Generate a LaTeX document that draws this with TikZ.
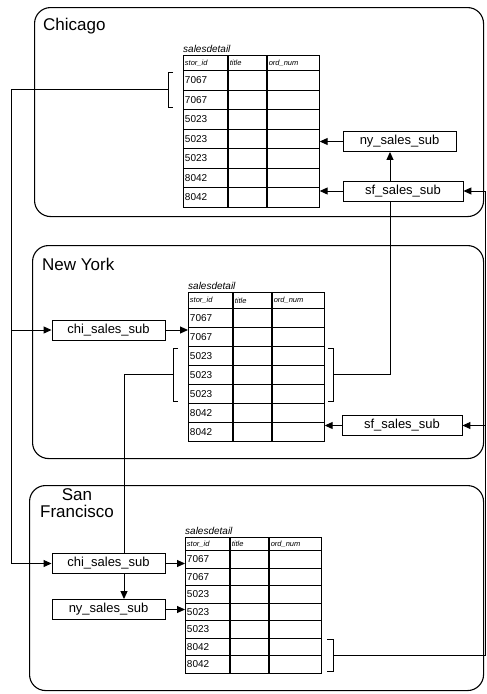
\documentclass[tikz,border=0pt]{standalone}
\usepackage{fontspec}
\setmainfont{Liberation Sans}
\usetikzlibrary{arrows.meta,positioning,backgrounds}

% one salesdetail table: name, left edge, header top, header height, row height
\newcommand{\salestable}[5]{%
  \node[tabtitle] (#1-title) at (#2,#3) {salesdetail};
  \node[hcell, text width=41pt, minimum height=#4pt] (#1-h1) at (#2,#3) {stor\_id};
  \node[hcell, text width=35pt, minimum height=#4pt] (#1-h2) at (#1-h1.north east) {title};
  \node[hcell, text width=49pt, minimum height=#4pt] (#1-h3) at (#1-h2.north east) {ord\_num};
  \foreach \rid [count=\row] in {7067,7067,5023,5023,5023,8042,8042} {
    \node[cell, text width=41pt, minimum height=#5pt] (#1-r\row) at ({#2},{#3+#4+(\row-1)*#5}) {\rid};
    \node[cell, text width=35pt, minimum height=#5pt] (#1-r\row-2) at (#1-r\row.north east) {};
    \node[cell, text width=49pt, minimum height=#5pt] (#1-r\row-3) at (#1-r\row-2.north east) {};
  }
}

\begin{document}
\begin{tikzpicture}[x=1pt, y=-1pt,
    site/.style={draw, line width=1.1pt, rounded corners=16pt, anchor=north west, inner sep=0pt},
    sitelabel/.style={font=\fontsize{17}{17}\selectfont, inner sep=0pt},
    sub/.style={draw, fill=white, line width=0.9pt, minimum height=20pt, inner sep=0pt, font=\fontsize{13}{13}\selectfont},
    tabtitle/.style={anchor=south west, inner sep=0pt, yshift=2pt, font=\fontsize{10}{10}\selectfont\itshape},
    hcell/.style={draw, line width=0.9pt, anchor=north west, inner xsep=1.5pt, inner ysep=0pt, align=left, font=\fontsize{7.5}{8}\selectfont\itshape},
    cell/.style={draw, line width=0.9pt, anchor=north west, inner xsep=1.5pt, inner ysep=0pt, align=left, font=\fontsize{10}{10}\selectfont},
    bracket/.style={line width=1pt},
    link/.style={line width=1pt},
    arr/.style={line width=1pt, -{Triangle[length=8pt, width=7pt]}}
]
\useasboundingbox (0,0) rectangle (487,694);

% Sites
\node[site, minimum width=449pt, minimum height=209pt] (chicago) at (34,7) {};
\node[sitelabel, anchor=base west] (chicago-label) at (43,30) {Chicago};

\node[site, minimum width=451pt, minimum height=213pt] (newyork) at (32,245) {};
\node[sitelabel, anchor=base west] (newyork-label) at (42,270) {New York};

\node[site, minimum width=454pt, minimum height=205pt] (sanfran) at (29,485) {};
\node[sitelabel, anchor=north, align=center] (sanfran-label) at (77,488) {San\\Francisco};

% Tables
\salestable{chi}{183}{55}{15}{19.5}
\salestable{ny}{188}{292}{16}{19}
\salestable{sf}{185}{537}{13}{17.5}

% Subscriptions
\node[sub, minimum width=113pt] (chi-nysub) at (399.5,141.5) {ny\_sales\_sub};
\node[sub, minimum width=120pt] (chi-sfsub) at (403,191) {sf\_sales\_sub};
\node[sub, minimum width=113pt] (ny-chisub) at (108.5,330) {chi\_sales\_sub};
\node[sub, minimum width=120pt] (ny-sfsub) at (402,425.5) {sf\_sales\_sub};
\node[sub, minimum width=113pt] (sf-chisub) at (108.5,563.5) {chi\_sales\_sub};
\node[sub, minimum width=113pt] (sf-nysub) at (108.5,609.5) {ny\_sales\_sub};

% Brackets round the published rows
\draw[bracket] (173,72) -- (168,72) -- (168,107) -- (173,107);
\coordinate (chipub) at (168,89.5);
\draw[bracket] (178,348) -- (173,348) -- (173,401) -- (178,401);
\coordinate (nypubL) at (173,374.5);
\draw[bracket] (328,348) -- (333,348) -- (333,401) -- (328,401);
\coordinate (nypubR) at (333,374.5);
\draw[bracket] (327,639) -- (333,639) -- (333,671) -- (327,671);
\coordinate (sfpub) at (333,655);

% Bus lines
\coordinate (lbus) at (11,0);
\coordinate (mbus) at (390,0);
\coordinate (sbus) at (124,0);
\coordinate (rbus) at (485.5,0);

\begin{pgfonlayer}{background}
% Chicago rows to the other sites
\draw[link] (chipub) -- (chipub -| lbus) -- (lbus |- ny-chisub);
\draw[arr] (lbus |- ny-chisub) -- (ny-chisub);
\draw[arr] (lbus |- ny-chisub) |- (sf-chisub);
% New York rows
\draw[arr] (nypubR) -- (nypubR -| mbus) -- (mbus |- chi-nysub.south);
\draw[arr] (nypubL) -- (nypubL -| sbus) -- (sbus |- sf-nysub.north);
% San Francisco rows
\draw[link] (sfpub) -- (sfpub -| rbus) -- (rbus |- chi-sfsub);
\draw[arr] (rbus |- ny-sfsub) -- (ny-sfsub);
\draw[arr] (rbus |- chi-sfsub) -- (chi-sfsub);
% Subscriptions into the tables
\draw[arr] (chi-nysub) -- (chi-nysub -| chi-r4-3.east);
\draw[arr] (chi-sfsub) -- (chi-sfsub -| chi-r7-3.east);
\draw[arr] (ny-chisub) -- (ny-chisub -| ny-r1.west);
\draw[arr] (ny-sfsub) -- (ny-sfsub -| ny-r7-3.east);
\draw[arr] (sf-chisub) -- (sf-chisub -| sf-r1.west);
\draw[arr] (sf-nysub) -- (sf-nysub -| sf-r4.west);
\end{pgfonlayer}

\end{tikzpicture}
\end{document}
